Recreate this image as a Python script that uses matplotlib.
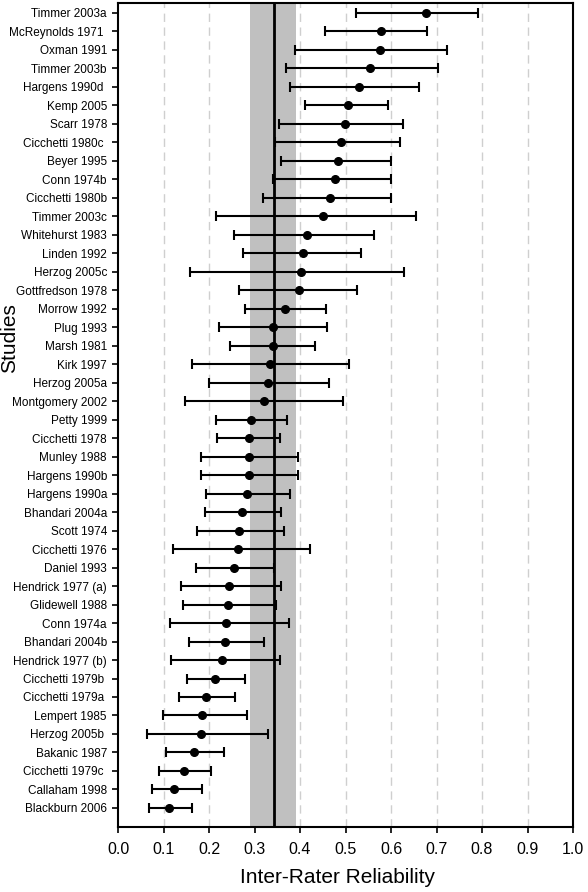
import numpy as np
import matplotlib.pyplot as plt

plt.rcParams['font.family'] = ['Liberation Sans', 'DejaVu Sans']

# Studies listed top to bottom
studies = ['Timmer 2003a', 'McReynolds 1971 ', 'Oxman 1991', 'Timmer 2003b', 'Hargens 1990d ',
           'Kemp 2005', 'Scarr 1978', 'Cicchetti 1980c ', 'Beyer 1995', 'Conn 1974b',
           'Cicchetti 1980b', 'Timmer 2003c', 'Whitehurst 1983', 'Linden 1992', 'Herzog 2005c',
           'Gottfredson 1978', 'Morrow 1992', 'Plug 1993', 'Marsh 1981', 'Kirk 1997',
           'Herzog 2005a', 'Montgomery 2002', 'Petty 1999', 'Cicchetti 1978', 'Munley 1988',
           'Hargens 1990b', 'Hargens 1990a', 'Bhandari 2004a', 'Scott 1974', 'Cicchetti 1976',
           'Daniel 1993', 'Hendrick 1977 (a)', 'Glidewell 1988', 'Conn 1974a', 'Bhandari 2004b',
           'Hendrick 1977 (b)', 'Cicchetti 1979b ', 'Cicchetti 1979a ', 'Lempert 1985',
           'Herzog 2005b ', 'Bakanic 1987', 'Cicchetti 1979c ', 'Callaham 1998', 'Blackburn 2006']

estimate = [0.678, 0.577, 0.576, 0.553, 0.530, 0.506, 0.499, 0.490, 0.484, 0.476,
            0.466, 0.451, 0.415, 0.407, 0.402, 0.398, 0.368, 0.340, 0.340, 0.334,
            0.330, 0.320, 0.292, 0.287, 0.287, 0.287, 0.284, 0.273, 0.266, 0.264,
            0.255, 0.243, 0.241, 0.237, 0.236, 0.229, 0.213, 0.194, 0.184, 0.182,
            0.166, 0.144, 0.124, 0.113]

lower = [0.524, 0.456, 0.390, 0.369, 0.377, 0.410, 0.353, 0.345, 0.359, 0.340,
         0.319, 0.216, 0.255, 0.274, 0.159, 0.266, 0.278, 0.221, 0.247, 0.163,
         0.199, 0.148, 0.215, 0.217, 0.182, 0.182, 0.194, 0.191, 0.174, 0.121,
         0.171, 0.138, 0.143, 0.115, 0.157, 0.117, 0.152, 0.133, 0.099, 0.064,
         0.105, 0.091, 0.074, 0.069]

upper = [0.791, 0.680, 0.723, 0.703, 0.661, 0.593, 0.626, 0.619, 0.599, 0.599,
         0.599, 0.655, 0.563, 0.533, 0.628, 0.526, 0.457, 0.460, 0.433, 0.507,
         0.463, 0.495, 0.372, 0.357, 0.396, 0.396, 0.378, 0.359, 0.365, 0.421,
         0.342, 0.359, 0.348, 0.376, 0.321, 0.355, 0.279, 0.258, 0.283, 0.330,
         0.233, 0.205, 0.184, 0.163]

mean_irr = 0.343
mean_ci = (0.291, 0.392)
grid_ticks = [0.1, 0.2, 0.3, 0.4, 0.5, 0.6, 0.7, 0.8, 0.9]

est = np.array(estimate)
lo = np.array(lower)
hi = np.array(upper)
n = len(studies)
y = np.arange(n)[::-1]

fig = plt.figure(figsize=(5.88, 8.92), dpi=100)
ax = fig.add_axes([0.2007, 0.0729, 0.7738, 0.9238])

for g in grid_ticks:
    ax.axvline(g, color='#cfcfcf', lw=1.0, ls=(0, (6, 4)), zorder=0)

ax.axvspan(mean_ci[0], mean_ci[1], color='#c0c0c0', lw=0, zorder=1)
ax.axvline(mean_irr, color='black', lw=2.0, zorder=2)

ax.errorbar(est, y, xerr=[est - lo, hi - est], fmt='o', color='black',
            ecolor='black', elinewidth=1.5, capsize=3.6, capthick=1.5,
            markersize=5.5, zorder=3)

ax.set_xlim(0, 1.0)
ax.set_ylim(-1.03, n - 1 + 0.54)
ax.set_xticks(np.arange(0, 1.01, 0.1))
ax.set_xticklabels(['%.1f' % v for v in np.arange(0, 1.01, 0.1)], fontsize=11.5)
ax.set_yticks(y)
ax.set_yticklabels(studies, fontsize=8.5)
ax.tick_params(axis='both', direction='out', length=4, width=1.2)
ax.tick_params(axis='y', pad=4)
ax.tick_params(axis='x', pad=7)
for s in ax.spines.values():
    s.set_linewidth(1.5)

# axis titles placed where the original has them
fig.text(0.574, 0.0157, 'Inter-Rater Reliability', fontsize=15, ha='center', va='center')
fig.text(0.017, 0.621, 'Studies', fontsize=15, rotation=90, ha='center', va='center')

fig.savefig('out.png', dpi=100)
